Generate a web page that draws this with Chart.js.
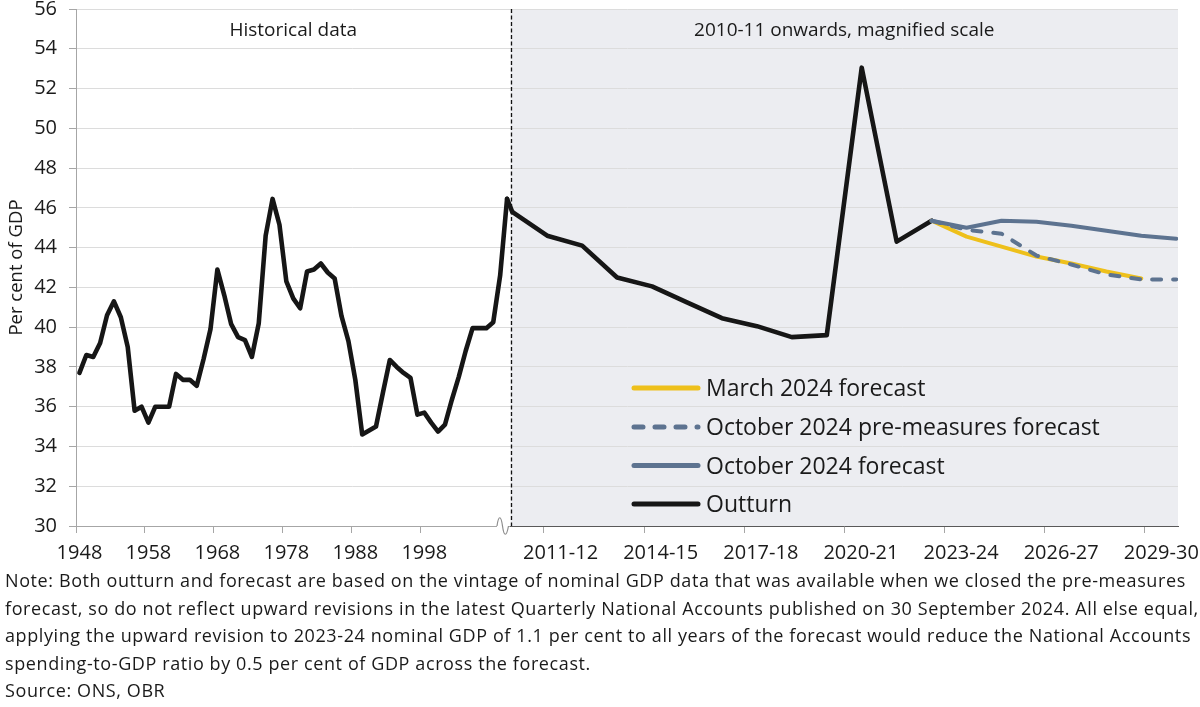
<!DOCTYPE html>
<html>
<head>
<meta charset="utf-8">
<script src="https://cdn.jsdelivr.net/npm/chart.js@4.4.1/dist/chart.umd.min.js"></script>
<style>
  html, body { margin: 0; padding: 0; background: #ffffff; }
  body { width: 1200px; height: 707px; overflow: hidden; font-family: "Open Sans", sans-serif; color: #1a1a1a; }
  #wrap { position: absolute; left: 0; top: 0; width: 1200px; height: 568px; }
  #note { position: absolute; left: 5px; top: 567px; font-size: 18px; letter-spacing: 0.6px; line-height: 27.5px; white-space: nowrap; color: #1a1a1a; }
</style>
</head>
<body>
<div id="wrap"><canvas id="chart" width="1200" height="568"></canvas></div>
<div id="note">Note: Both outturn and forecast are based on the vintage of nominal GDP data that was available when we closed the pre-measures<br>forecast, so do not reflect upward revisions in the latest Quarterly National Accounts published on 30 September 2024. All else equal,<br>applying the upward revision to 2023-24 nominal GDP of 1.1 per cent to all years of the forecast would reduce the National Accounts<br>spending-to-GDP ratio by 0.5 per cent of GDP across the forecast.<br>Source: ONS, OBR</div>
<script>
// ---------- DATA ----------
const histYears = [1948,1949,1950,1951,1952,1953,1954,1955,1956,1957,1958,1959,1960,1961,1962,1963,1964,1965,1966,1967,
  1968,1969,1970,1971,1972,1973,1974,1975,1976,1977,1978,1979,1980,1981,1982,1983,1984,1985,1986,1987,
  1988,1989,1990,1991,1992,1993,1994,1995,1996,1997,1998,1999,2000,2001,2002,2003,2004,2005,2006,2007,
  2008,2009,2010];
const histValues = [37.7,38.6,38.5,39.2,40.6,41.3,40.5,39.0,35.8,36.0,35.2,36.0,36.0,36.0,37.65,37.35,37.35,37.05,38.4,39.9,
  42.9,41.6,40.15,39.5,39.35,38.5,40.2,44.6,46.45,45.15,42.3,41.45,40.95,42.8,42.9,43.2,42.75,42.45,40.55,39.3,
  37.35,34.6,34.8,35.0,36.7,38.35,38.0,37.7,37.45,35.6,35.7,35.2,34.75,35.1,36.35,37.5,38.8,39.95,39.95,39.95,
  40.25,42.6,46.45];

const fiscalYears = ['2010-11','2011-12','2012-13','2013-14','2014-15','2015-16','2016-17','2017-18','2018-19','2019-20',
  '2020-21','2021-22','2022-23','2023-24','2024-25','2025-26','2026-27','2027-28','2028-29','2029-30'];
const outturn       = [45.8,44.6,44.1,42.5,42.05,41.25,40.45,40.05,39.5,39.6,53.05,44.3,45.35,null,null,null,null,null,null,null];
const march2024     = [null,null,null,null,null,null,null,null,null,null,null,null,45.35,44.55,44.05,43.55,43.2,42.8,42.45,null];
const oct2024Pre    = [null,null,null,null,null,null,null,null,null,null,null,null,45.35,44.9,44.7,43.6,43.15,42.65,42.4,42.4];
const oct2024       = [null,null,null,null,null,null,null,null,null,null,null,null,45.35,45.0,45.35,45.3,45.1,44.85,44.6,44.45];

const histTickLabels = ['1948','1958','1968','1978','1988','1998'];
const fiscalTickLabels = ['2011-12','2014-15','2017-18','2020-21','2023-24','2026-27','2029-30'];
const yMin = 30, yMax = 56, yStep = 2;

const panelLabels = ['Historical data', '2010-11 onwards, magnified scale'];
const yTitle = 'Per cent of GDP';

// ---------- STYLES ----------
const FONT = '"Open Sans", sans-serif';
const TEXT = '#1a1a1a';
const BLACK = '#161616';
const YELLOW = '#EEC01B';
const SLATE = '#5d7390';
const AXIS_GREY = '#a6a6a6';

const histPts = histYears.map((yr, i) => ({x: yr, y: histValues[i]}));
const toPts = arr => arr.map((v, i) => ({x: i, y: v}));

const datasets = [
  {label: 'October 2024 pre-measures forecast', data: toPts(oct2024Pre), xAxisID: 'xf', borderColor: SLATE, borderWidth: 4, borderDash: [9, 12], borderCapStyle: 'round'},
  {label: 'October 2024 forecast', data: toPts(oct2024), xAxisID: 'xf', borderColor: SLATE, borderWidth: 4},
  {label: 'March 2024 forecast', data: toPts(march2024), xAxisID: 'xf', borderColor: YELLOW, borderWidth: 4},
  {label: 'Outturn', data: toPts(outturn), xAxisID: 'xf', borderColor: BLACK, borderWidth: 4.6},
  {label: 'Outturn (historical)', data: histPts, xAxisID: 'xh', borderColor: BLACK, borderWidth: 4.6}
];
datasets.forEach(d => { d.pointRadius = 0; d.fill = false; d.tension = 0; d.borderJoinStyle = 'round'; d.spanGaps = false; if (!d.borderCapStyle) d.borderCapStyle = 'round'; });
const legendOrder = ['March 2024 forecast', 'October 2024 pre-measures forecast', 'October 2024 forecast', 'Outturn'];

// ---------- PLUGINS ----------
const panelPlugin = {
  id: 'panels',
  beforeDraw(chart) {
    const {ctx, chartArea} = chart;
    const xf = chart.scales.xf;
    ctx.save();
    ctx.fillStyle = '#ecedf1';
    ctx.fillRect(xf.left, chartArea.top, xf.right - xf.left, chartArea.bottom - chartArea.top);
    ctx.restore();
  },
  beforeDatasetsDraw(chart) {
    const {ctx, chartArea} = chart;
    const xf = chart.scales.xf;
    ctx.save();
    ctx.strokeStyle = '#111';
    ctx.lineWidth = 1.3;
    ctx.setLineDash([4, 2.5]);
    ctx.beginPath();
    ctx.moveTo(Math.round(xf.left) + 0.5, chartArea.top);
    ctx.lineTo(Math.round(xf.left) + 0.5, chartArea.bottom);
    ctx.stroke();
    ctx.restore();
    // connector between the historical series and the magnified outturn series
    const xh = chart.scales.xh, y = chart.scales.y;
    const lastI = histYears.length - 1;
    ctx.save();
    ctx.strokeStyle = BLACK;
    ctx.lineWidth = 4.6;
    ctx.lineCap = 'round';
    ctx.lineJoin = 'round';
    ctx.beginPath();
    ctx.moveTo(xh.getPixelForValue(histYears[lastI]), y.getPixelForValue(histValues[lastI]));
    ctx.lineTo(xf.getPixelForValue(0), y.getPixelForValue(outturn[0]));
    ctx.stroke();
    ctx.restore();
  },
  afterDraw(chart) {
    const {ctx, chartArea} = chart;
    const xh = chart.scales.xh, xf = chart.scales.xf;
    // axis break symbol
    const bx = xh.right - 7.5, by = chartArea.bottom;
    ctx.save();
    ctx.fillStyle = '#ffffff';
    ctx.fillRect(bx - 6, by - 2, 12, 4);
    ctx.strokeStyle = '#8c8c8c';
    ctx.lineWidth = 1.2;
    ctx.beginPath();
    ctx.moveTo(bx - 6, by);
    ctx.bezierCurveTo(bx - 4.5, by - 11, bx - 2, by - 11, bx - 0.5, by);
    ctx.bezierCurveTo(bx + 1, by + 11, bx + 3.5, by + 11, bx + 5.5, by);
    ctx.stroke();
    ctx.restore();
    // panel labels
    ctx.save();
    ctx.fillStyle = TEXT;
    ctx.font = '19px ' + FONT;
    ctx.textAlign = 'center';
    ctx.textBaseline = 'alphabetic';
    ctx.fillText(panelLabels[0], (xh.left + xh.right) / 2, chartArea.top + 27);
    ctx.fillText(panelLabels[1], (xf.left + xf.right) / 2, chartArea.top + 27);
    ctx.restore();
    // legend
    const lx0 = 632, lx1 = 700, tx = 706, rows = [388, 427, 465.5, 504];
    ctx.save();
    legendOrder.forEach((name, k) => {
      const ds = chart.data.datasets.find(d => d.label === name);
      const yy = rows[k];
      ctx.strokeStyle = ds.borderColor;
      ctx.lineWidth = 5;
      ctx.lineCap = 'round';
      ctx.setLineDash(ds.borderDash ? [9, 12] : []);
      ctx.beginPath();
      ctx.moveTo(lx0 + 2, yy);
      ctx.lineTo(lx1 - 2, yy);
      ctx.stroke();
      ctx.setLineDash([]);
      ctx.fillStyle = TEXT;
      ctx.font = '23px ' + FONT;
      ctx.textAlign = 'left';
      ctx.textBaseline = 'alphabetic';
      ctx.fillText(name, tx, yy + 8.2);
    });
    ctx.restore();
  }
};

// ---------- CHART ----------
const HIST_W = 434.5, FISC_W = 667.5;

new Chart(document.getElementById('chart'), {
  type: 'line',
  data: {datasets},
  options: {
    responsive: false,
    animation: false,
    events: [],
    layout: {padding: {top: 9, right: 22, left: 0, bottom: 0}},
    plugins: {legend: {display: false}, tooltip: {enabled: false}},
    scales: {
      xh: {
        type: 'linear', position: 'bottom', stack: 'x', stackWeight: HIST_W,
        min: histYears[0] - 0.5, max: histYears[histYears.length - 1] + 0.5,
        border: {display: true, color: AXIS_GREY, width: 1},
        grid: {display: true, drawOnChartArea: false, drawTicks: true, tickLength: 7, tickColor: AXIS_GREY},
        afterBuildTicks: s => { s.ticks = histTickLabels.map(l => ({value: Number(l) - 0.5})); },
        afterFit: s => { s.height = 42; s.paddingLeft = 0; s.paddingRight = 0; },
        ticks: {
          autoSkip: false, maxRotation: 0, padding: 8, color: TEXT, font: {family: FONT, size: 20},
          labelOffset: 3.45,
          callback: (v, i) => histTickLabels[i]
        }
      },
      xf: {
        type: 'linear', position: 'bottom', stack: 'x', stackWeight: FISC_W,
        min: -0.05, max: fiscalYears.length - 1 + 0.05,
        border: {display: true, color: '#595959', width: 1},
        grid: {display: true, drawOnChartArea: false, drawTicks: true, tickLength: 7, tickColor: AXIS_GREY},
        afterBuildTicks: s => {
          const n = fiscalYears.length;
          const band = (s.max - s.min) / n;
          s.ticks = fiscalTickLabels.map(l => ({value: s.min + fiscalYears.indexOf(l) * band}));
        },
        afterFit: s => { s.height = 42; s.paddingLeft = 0; s.paddingRight = 0; },
        ticks: {
          autoSkip: false, maxRotation: 0, padding: 8, color: TEXT, font: {family: FONT, size: 20},
          labelOffset: 16.7,
          callback: (v, i) => fiscalTickLabels[i]
        }
      },
      y: {
        type: 'linear', position: 'left', min: yMin, max: yMax,
        border: {display: true, color: AXIS_GREY, width: 1},
        grid: {color: '#dcdcdc', lineWidth: 1, drawTicks: true, tickLength: 7, tickColor: AXIS_GREY},
        afterFit: s => { s.width = 76; s.paddingTop = 0; s.paddingBottom = 0; },
        ticks: {stepSize: yStep, padding: 12, color: TEXT, font: {family: FONT, size: 20}},
        title: {display: true, text: yTitle, color: TEXT, font: {family: FONT, size: 18.5}, padding: {top: 6, bottom: 0}}
      }
    }
  },
  plugins: [panelPlugin]
});
</script>
</body>
</html>
